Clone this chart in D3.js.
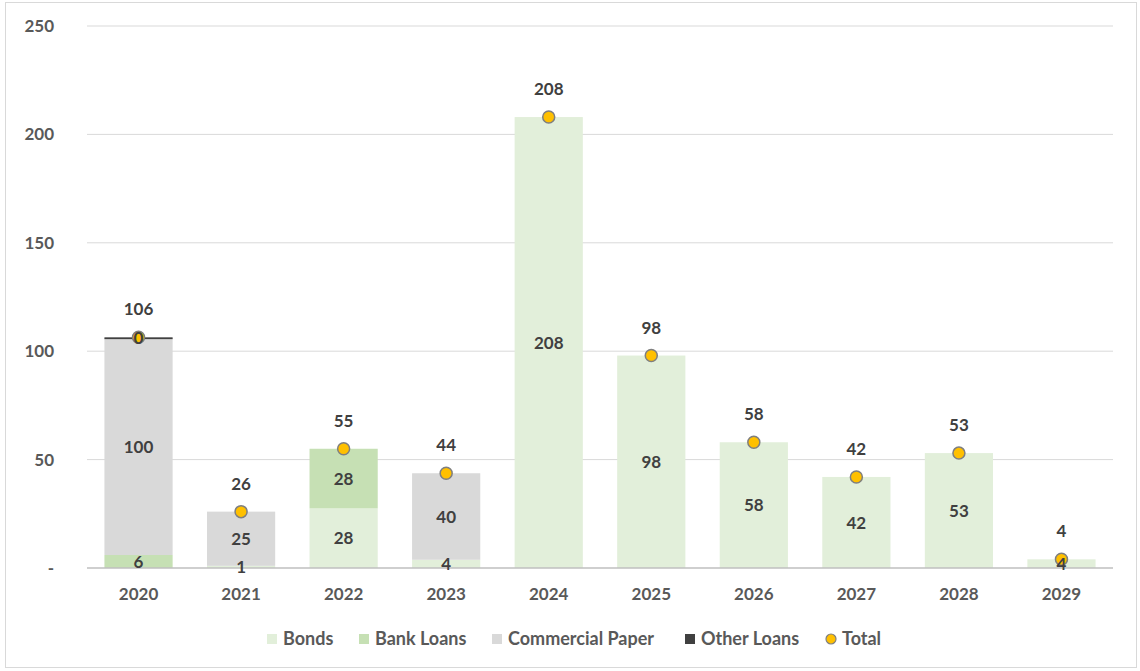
<!DOCTYPE html>
<html>
<head>
<meta charset="utf-8">
<script src="https://cdn.jsdelivr.net/npm/d3@7"></script>
<style>
  html, body { margin: 0; padding: 0; background: #fff; }
  svg { display: block; font-family: Lato, "Open Sans", sans-serif; }
</style>
</head>
<body>
<svg id="chart" width="1140" height="671"></svg>
<script>
// Maturity profile by instrument type
const years = ["2020", "2021", "2022", "2023", "2024", "2025", "2026", "2027", "2028", "2029"];
const bonds = [0, 1, 27.5, 3.8, 208, 98, 58, 42, 53, 4];
const bankLoans = [6, 0, 27.5, 0, 0, 0, 0, 0, 0, 0];
const commercialPaper = [100, 25, 0, 39.9, 0, 0, 0, 0, 0, 0];
const otherLoans = [0.4, 0, 0, 0, 0, 0, 0, 0, 0, 0];
const yTicks = [0, 50, 100, 150, 200, 250];

const seriesNames = ["Bonds", "Bank Loans", "Commercial Paper", "Other Loans"];
const seriesValues = [bonds, bankLoans, commercialPaper, otherLoans];
const colors = ["#e2efda", "#c6e0b4", "#d9d9d9", "#404040"];
const totals = years.map((_, i) => d3.sum(seriesValues, s => s[i]));

const svg = d3.select("#chart");
const W = 1140, H = 671;
const margin = { left: 87, right: 27, top: 26, bottom: 103 };

// outer frame
svg.append("rect").attr("x", 5.5).attr("y", 2.5).attr("width", W - 9).attr("height", H - 6)
  .attr("fill", "#fff").attr("stroke", "#d9d9d9");

const x = d3.scaleBand().domain(years).range([margin.left, W - margin.right]).paddingInner(0.335).paddingOuter(0.17);
const y = d3.scaleLinear().domain([0, 250]).range([H - margin.bottom, margin.top]);

// gridlines
svg.append("g").selectAll("line").data(yTicks.filter(t => t > 0)).join("line")
  .attr("x1", margin.left).attr("x2", W - margin.right)
  .attr("y1", d => y(d)).attr("y2", d => y(d))
  .attr("stroke", "#d9d9d9").attr("stroke-width", 1);

// y axis labels
const yAxis = d3.axisLeft(y).tickValues(yTicks).tickSize(0).tickPadding(33)
  .tickFormat(d => d === 0 ? "-" : d3.format("d")(d));
const gy = svg.append("g").attr("transform", `translate(${margin.left},0)`).call(yAxis);
gy.select(".domain").remove();
gy.selectAll("text").attr("fill", "#595959").attr("font-size", 17).attr("font-weight", 700)
  .attr("font-family", "Lato, sans-serif");

// stacked bars
const table = years.map((yr, i) => {
  const row = { year: yr };
  seriesNames.forEach((n, k) => row[n] = seriesValues[k][i]);
  return row;
});
const stacked = d3.stack().keys(seriesNames)(table);

const layers = svg.append("g").selectAll("g").data(stacked).join("g")
  .attr("fill", (d, k) => colors[k]);
layers.selectAll("rect").data(d => d.filter(p => p[1] - p[0] > 0)).join("rect")
  .attr("x", p => x(p.data.year))
  .attr("width", x.bandwidth())
  .attr("y", p => y(p[1]))
  .attr("height", p => Math.max(y(p[0]) - y(p[1]), 1.8));

// baseline
svg.append("line").attr("x1", margin.left).attr("x2", W - margin.right)
  .attr("y1", y(0)).attr("y2", y(0)).attr("stroke", "#bfbfbf").attr("stroke-width", 1.5);

// x axis labels
const xAxis = d3.axisBottom(x).tickSize(0).tickPadding(20);
const gx = svg.append("g").attr("transform", `translate(0,${y(0)})`).call(xAxis);
gx.select(".domain").remove();
gx.selectAll("text").attr("fill", "#595959").attr("font-size", 17).attr("font-weight", 700)
  .attr("font-family", "Lato, sans-serif");

// total markers
svg.append("g").selectAll("circle").data(years).join("circle")
  .attr("cx", d => x(d) + x.bandwidth() / 2)
  .attr("cy", (d, i) => y(totals[i]))
  .attr("r", 6)
  .attr("fill", "#ffc000").attr("stroke", "#7f7f7f").attr("stroke-width", 1.5);

// segment value labels
const fmt = d3.format(".0f");
const labelG = svg.append("g").attr("font-size", 17).attr("font-weight", 700)
  .attr("fill", "#404040").attr("text-anchor", "middle");
stacked.forEach(layer => {
  layer.forEach(p => {
    const v = p[1] - p[0];
    if (v <= 0) return;
    labelG.append("text")
      .attr("x", x(p.data.year) + x.bandwidth() / 2)
      .attr("y", (y(p[0]) + y(p[1])) / 2)
      .attr("dy", "0.36em")
      .text(fmt(v));
  });
});

// total labels
svg.append("g").attr("font-size", 17).attr("font-weight", 700).attr("fill", "#404040")
  .attr("text-anchor", "middle")
  .selectAll("text").data(years).join("text")
  .attr("x", d => x(d) + x.bandwidth() / 2)
  .attr("y", (d, i) => y(totals[i]) - 28)
  .attr("dy", "0.36em")
  .text((d, i) => fmt(totals[i]));

// legend
const legendItems = [
  { name: "Bonds", color: colors[0], type: "rect", x: 267 },
  { name: "Bank Loans", color: colors[1], type: "rect", x: 359 },
  { name: "Commercial Paper", color: colors[2], type: "rect", x: 492 },
  { name: "Other Loans", color: colors[3], type: "rect", x: 685 },
  { name: "Total", color: "#ffc000", type: "circle", x: 826 }
];
const lg = svg.append("g").attr("transform", "translate(0,639)");
const li = lg.selectAll("g").data(legendItems).join("g")
  .attr("transform", d => `translate(${d.x},0)`);
li.filter(d => d.type === "rect").append("rect")
  .attr("x", 0).attr("y", -5).attr("width", 10).attr("height", 10).attr("fill", d => d.color);
li.filter(d => d.type === "circle").append("circle")
  .attr("cx", 5).attr("cy", 0).attr("r", 5).attr("fill", d => d.color)
  .attr("stroke", "#7f7f7f").attr("stroke-width", 1.2);
li.append("text").attr("x", d => d.type === "circle" ? 16 : 16).attr("dy", "0.36em")
  .attr("font-size", 18).attr("font-weight", 700).attr("fill", "#595959")
  .text(d => d.name);
</script>
</body>
</html>
